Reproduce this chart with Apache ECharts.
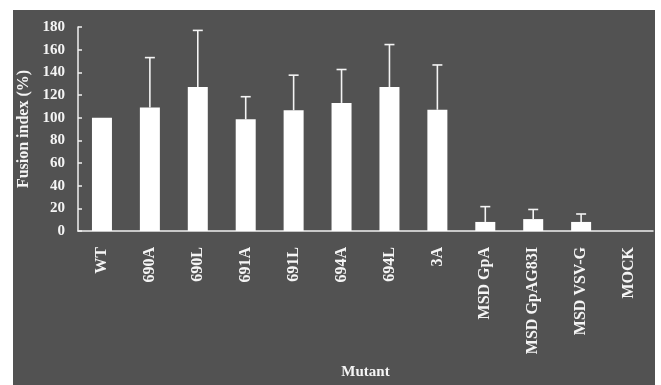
<!DOCTYPE html>
<html><head><meta charset="utf-8">
<script src="https://cdn.jsdelivr.net/npm/echarts@6/dist/echarts.min.js"></script>
<style>html,body{margin:0;padding:0;background:#fff}#c{width:661px;height:385px}</style>
</head><body><div id="c"></div>
<script>
const categories = ['WT','690A','690L','691A','691L','694A','694L','3A','MSD GpA','MSD GpAG83I','MSD VSV-G','MOCK'];
const values = [100,109,127,98.5,106.5,113,127,107,8,10.5,8,0];
const errors = [0,44,50,20,31,29.5,37.5,39.5,13.5,8.5,7,0];
const yTicks = {min:0,max:180,interval:20};
const FONT = 'Liberation Serif';
const chart = echarts.init(document.getElementById('c'));
chart.setOption({
  animation:false,
  graphic:[{type:'rect',z:-10,shape:{x:13,y:10,width:642,height:375},style:{fill:'#525252'}}],
  grid:{left:78,right:8,top:27,bottom:149},
  xAxis:{type:'category',data:categories,name:'Mutant',nameLocation:'middle',nameGap:134,
    nameTextStyle:{color:'#f4f4f4',fontFamily:FONT,fontWeight:'bold',fontSize:15},
    axisLine:{lineStyle:{color:'#f0f0f0',width:1.5}},
    axisTick:{inside:true,length:5,lineStyle:{color:'#f0f0f0',width:1.5}},
    axisLabel:{rotate:90,margin:16,color:'#f4f4f4',fontFamily:FONT,fontWeight:'bold',fontSize:16,interval:0}},
  yAxis:{type:'value',min:yTicks.min,max:yTicks.max,interval:yTicks.interval,
    name:'Fusion index (%)',nameLocation:'middle',nameGap:46,
    nameTextStyle:{color:'#f4f4f4',fontFamily:FONT,fontWeight:'bold',fontSize:16},
    splitLine:{show:false},
    axisLine:{show:true,lineStyle:{color:'#f0f0f0',width:1.5}},
    axisTick:{show:true,inside:true,length:4,lineStyle:{color:'#f0f0f0',width:1.5}},
    axisLabel:{margin:13,color:'#f4f4f4',fontFamily:FONT,fontWeight:'bold',fontSize:15}},
  series:[
    {type:'bar',data:values,barWidth:20,itemStyle:{color:'#ffffff'}},
    {type:'custom',data:values.map((v,i)=>[i,v,v+errors[i]]),z:5,
      renderItem:function(params,api){
        const i=api.value(0), v=api.value(1), t=api.value(2);
        if(t<=v) return null;
        const p0=api.coord([i,v]), p1=api.coord([i,t]);
        const style={stroke:'#f4f4f4',lineWidth:1.6};
        return {type:'group',children:[
          {type:'line',shape:{x1:p0[0],y1:p0[1],x2:p1[0],y2:p1[1]},style:style},
          {type:'line',shape:{x1:p1[0]-5,y1:p1[1],x2:p1[0]+5,y2:p1[1]},style:style}
        ]};
      }}
  ]
});
</script></body></html>
